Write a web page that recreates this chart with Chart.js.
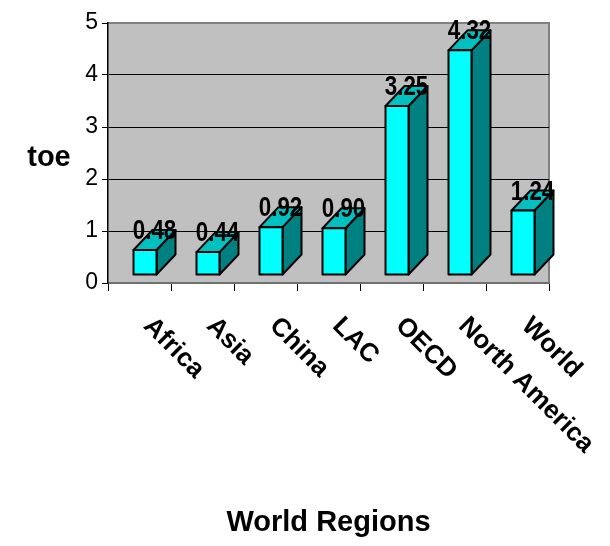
<!DOCTYPE html>
<html>
<head>
<meta charset="utf-8">
<script src="https://cdn.jsdelivr.net/npm/chart.js@4/dist/chart.umd.min.js"></script>
<style>
  html, body { margin: 0; padding: 0; background: #ffffff; }
  canvas { display: block; }
</style>
</head>
<body>
<canvas id="chart" width="610" height="546"></canvas>
<script>
// Energy use per person by region (tonnes of oil equivalent)
const regions = ['Africa', 'Asia', 'China', 'LAC', 'OECD', 'North America', 'World'];
const toeValues = [0.48, 0.44, 0.92, 0.90, 3.25, 4.32, 1.24];
const yTickValues = [0, 1, 2, 3, 4, 5];
const yAxisLabel = 'toe';
const xAxisLabel = 'World Regions';

const FAMILY = "'Liberation Sans', Arial, Helvetica, sans-serif";

// Oblique 3D look: the front face sits slightly right of / above the axis
// floor, and every column is extruded up and to the right.
const FRONT_SHIFT = { x: 5.5, y: -8 };
const DEPTH = { x: 19, y: -20 };
const FACE = { front: '#00ffff', top: '#00c0c0', side: '#008080', edge: '#000000' };

const plotBackground = {
  id: 'plotBackground',
  beforeDraw(chart) {
    const { ctx, chartArea: a } = chart;
    ctx.save();
    ctx.fillStyle = '#c0c0c0';
    ctx.fillRect(a.left, a.top, a.right - a.left, a.bottom - a.top);
    ctx.strokeStyle = '#808080';
    ctx.lineWidth = 2;
    ctx.beginPath();
    ctx.moveTo(a.left, a.top);
    ctx.lineTo(a.right, a.top);
    ctx.lineTo(a.right, a.bottom);
    ctx.stroke();
    ctx.restore();
  }
};

const columns3d = {
  id: 'columns3d',
  afterDatasetsDraw(chart) {
    const { ctx } = chart;
    const meta = chart.getDatasetMeta(0);
    const values = chart.data.datasets[0].data;
    ctx.save();
    ctx.lineWidth = 2;
    ctx.lineJoin = 'round';
    ctx.strokeStyle = FACE.edge;
    meta.data.forEach((bar, i) => {
      const p = bar.getProps(['x', 'y', 'base', 'width'], true);
      const l = p.x - p.width / 2 + FRONT_SHIFT.x;
      const r = p.x + p.width / 2 + FRONT_SHIFT.x;
      const t = p.y + FRONT_SHIFT.y;
      const b = p.base + FRONT_SHIFT.y;
      const dx = DEPTH.x, dy = DEPTH.y;

      // right side
      ctx.beginPath();
      ctx.moveTo(r, b); ctx.lineTo(r, t); ctx.lineTo(r + dx, t + dy); ctx.lineTo(r + dx, b + dy);
      ctx.closePath();
      ctx.fillStyle = FACE.side; ctx.fill(); ctx.stroke();

      // top
      ctx.beginPath();
      ctx.moveTo(l, t); ctx.lineTo(r, t); ctx.lineTo(r + dx, t + dy); ctx.lineTo(l + dx, t + dy);
      ctx.closePath();
      ctx.fillStyle = FACE.top; ctx.fill(); ctx.stroke();

      // front
      ctx.beginPath();
      ctx.rect(l, t, r - l, b - t);
      ctx.fillStyle = FACE.front; ctx.fill(); ctx.stroke();

      // value label above the column
      const cx = (l + r) / 2 + dx / 2;
      ctx.save();
      ctx.translate(cx, t - 11);
      ctx.scale(0.8, 1);
      ctx.font = 'bold 28px ' + FAMILY;
      ctx.fillStyle = '#000';
      ctx.textAlign = 'center';
      ctx.textBaseline = 'alphabetic';
      ctx.fillText(values[i].toFixed(2), 0, 0);
      ctx.restore();
    });
    ctx.restore();
  }
};

const axisText = {
  id: 'axisText',
  afterDraw(chart) {
    const { ctx, chartArea: a } = chart;
    const xs = chart.scales.x;
    ctx.save();
    ctx.fillStyle = '#000';

    // horizontal y-axis caption
    ctx.font = 'bold 29px ' + FAMILY;
    ctx.textAlign = 'center';
    ctx.textBaseline = 'alphabetic';
    ctx.fillText(yAxisLabel, a.left - 59, (a.top + a.bottom) / 2 + 13);

    // slanted category names
    ctx.font = 'bold 26px ' + FAMILY;
    ctx.textAlign = 'left';
    regions.forEach((name, i) => {
      const x = xs.getPixelForValue(i) + 3;
      ctx.save();
      ctx.translate(x, a.bottom + 44);
      ctx.rotate(Math.PI / 4);
      ctx.fillText(name, 0, 0);
      ctx.restore();
    });
    ctx.restore();
  }
};

new Chart(document.getElementById('chart'), {
  type: 'bar',
  data: {
    labels: regions,
    datasets: [{
      data: toeValues,
      backgroundColor: 'rgba(0,0,0,0)',
      borderWidth: 0,
      barPercentage: 0.365,
      categoryPercentage: 1
    }]
  },
  options: {
    responsive: false,
    animation: false,
    devicePixelRatio: 1,
    layout: { padding: { left: 0, right: 61, top: 23, bottom: 0 } },
    plugins: { legend: { display: false }, tooltip: { enabled: false } },
    scales: {
      x: {
        type: 'category',
        offset: true,
        grid: {
          display: true,
          offset: true,
          drawOnChartArea: false,
          drawTicks: true,
          tickLength: 8,
          color: '#000',
          lineWidth: 1
        },
        border: { display: true, color: '#707070', width: 2 },
        ticks: { display: false },
        title: {
          display: true,
          text: xAxisLabel,
          color: '#000',
          font: { family: FAMILY, size: 29, weight: 'bold' },
          padding: { top: 0, bottom: 6 }
        },
        afterFit(scale) { scale.height = 263; }
      },
      y: {
        min: 0,
        max: 5,
        afterBuildTicks(scale) { scale.ticks = yTickValues.map(v => ({ value: v })); },
        ticks: {
          color: '#000',
          font: { family: FAMILY, size: 23 },
          padding: 4
        },
        grid: {
          color: c => (c.tick && c.tick.value === 5 ? '#808080' : '#000'),
          tickColor: '#000',
          lineWidth: 1,
          tickLength: 6,
          drawTicks: true
        },
        border: { display: true, color: '#000', width: 1.5 },
        afterFit(scale) { scale.width = 108; }
      }
    }
  },
  plugins: [plotBackground, columns3d, axisText]
});
</script>
</body>
</html>
